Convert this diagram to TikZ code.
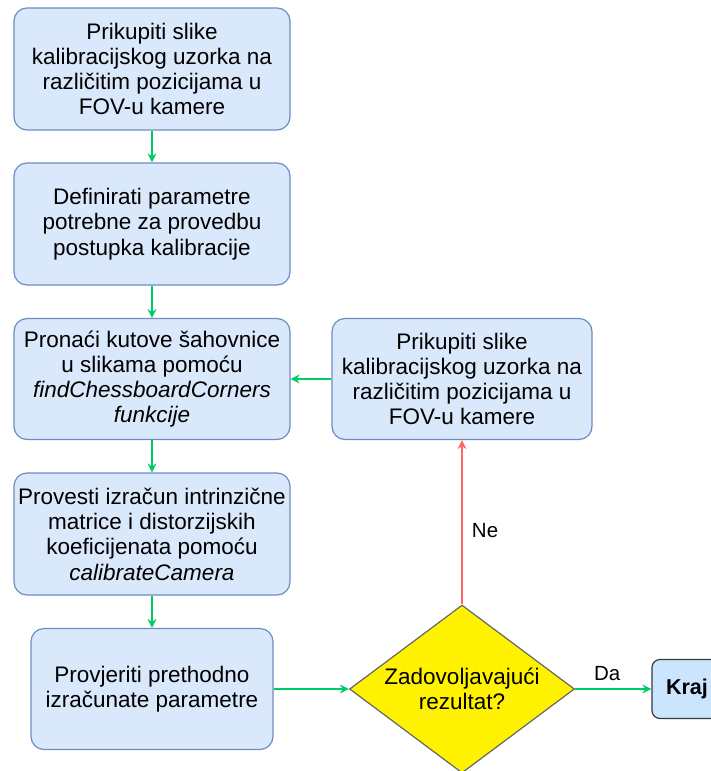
\documentclass[tikz,border=0pt]{standalone}
\usepackage{fontspec}
\setmainfont{Liberation Sans}
\usepackage{xcolor}
\usetikzlibrary{shapes.geometric,arrows.meta}

\definecolor{boxfill}{HTML}{DAE8FC}
\definecolor{boxline}{HTML}{6C8EBF}
\definecolor{endfill}{HTML}{CCE5FF}
\definecolor{endline}{HTML}{36393D}
\definecolor{arrgreen}{HTML}{00CC66}
\definecolor{arrred}{HTML}{FF6666}
\definecolor{decline}{HTML}{666666}

\tikzset{
	stepbox/.style={rectangle, rounded corners=13pt, draw=boxline, fill=boxfill,
		line width=1.2pt, align=center, inner sep=0pt,
		minimum width=276pt, minimum height=122pt,
		font=\fontsize{22.5}{25.3}\selectfont},
	decision/.style={diamond, aspect=1.34, draw=decline, fill=yellow,
		line width=1.2pt, align=center, inner sep=0pt,
		minimum width=225pt, minimum height=168pt,
		font=\fontsize{22.5}{25.3}\selectfont},
	endbox/.style={rectangle, rounded corners=8pt, draw=endline, fill=endfill,
		line width=1.2pt, inner sep=0pt, minimum width=70pt, minimum height=59pt,
		font=\fontsize{21.5}{25}\selectfont\bfseries},
	flow/.style={draw=arrgreen, line width=1.3pt, -{Stealth[length=9pt,width=9pt]}},
	back/.style={draw=arrred, line width=1.3pt, -{Stealth[length=9pt,width=9pt]}},
	lbl/.style={font=\fontsize{20.5}{24}\selectfont}
}

\begin{document}
\begin{tikzpicture}[x=1pt,y=-1pt]
	\useasboundingbox (0,0) rectangle (711,771);
	%\draw[help lines] (0,0) grid[step=50] (711,771);
	
	\node[stepbox] (snimi) at (152,69) {Prikupiti slike\\kalibracijskog uzorka na\\različitim pozicijama u\\FOV-u kamere};
	\node[stepbox] (param) at (152,224) {Definirati parametre\\potrebne za provedbu\\postupka kalibracije};
	\node[stepbox, minimum height=121pt] (kutovi) at (152,379) {Pronaći kutove šahovnice\\u slikama pomoću\\\textit{findChessboardCorners}\\\textit{funkcije}};
	\node[stepbox] (izracun) at (152,534) {Provesti izračun intrinzične\\matrice i distorzijskih\\koeficijenata pomoću\\\textit{calibrateCamera}};
	\node[stepbox, minimum width=242pt, minimum height=121pt] (provjera) at (152,689) {Provjeriti prethodno\\izračunate parametre};
	\node[stepbox, minimum width=260pt, minimum height=121pt] (ponovo) at (462,379) {Prikupiti slike\\kalibracijskog uzorka na\\različitim pozicijama u\\FOV-u kamere};
	\node[decision] (rezultat) at (462,689) {Zadovoljavajući\\rezultat?};
	\node[endbox] (kraj) at (687,689) {Kraj};
	
	\draw[flow] (snimi) -- (param);
	\draw[flow] (param) -- (kutovi);
	\draw[flow] (kutovi) -- (izracun);
	\draw[flow] (izracun) -- (provjera);
	\draw[flow] (provjera) -- (rezultat);
	\draw[flow] (ponovo) -- (kutovi);
	\draw[back] (rezultat) -- node[lbl, right=6pt, pos=0.45] (ne) {Ne} (ponovo);
	\draw[flow] (rezultat) -- node[lbl, above=4pt, pos=0.42] (da) {Da} (kraj);
\end{tikzpicture}
\end{document}
